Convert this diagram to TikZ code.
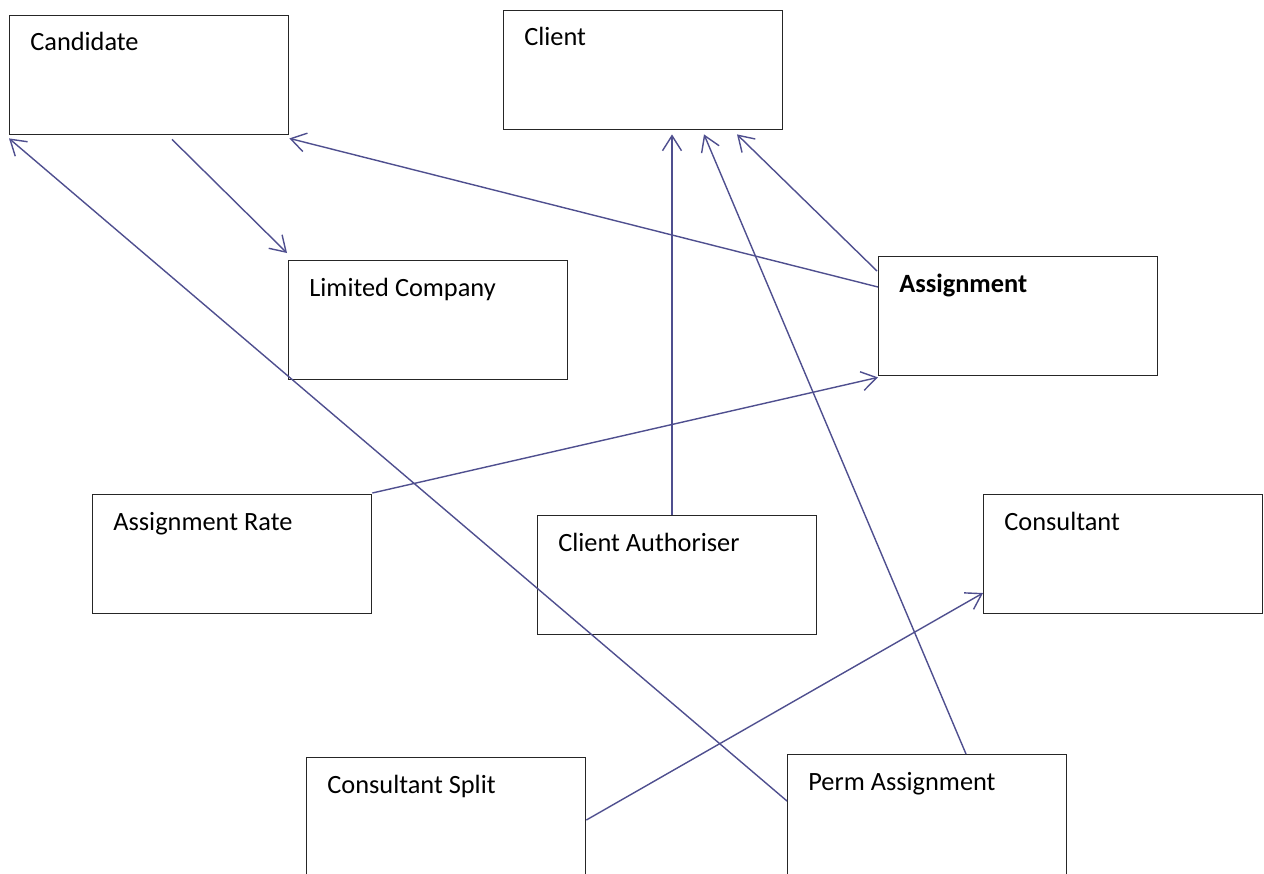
\documentclass[tikz,border=0pt]{standalone}
\usepackage{fontspec}
\setmainfont{Carlito}
\usetikzlibrary{arrows.meta, calc, positioning}
\definecolor{linkblue}{RGB}{79,79,143}
\tikzset{entity/.style={draw=black!85, line width=0.8pt, anchor=north west, minimum width=5.58cm, minimum height=2.38cm, inner sep=0pt}}
\tikzset{tag/.style={anchor=base west, inner sep=0pt, xshift=0.42cm, yshift=-0.72cm}}
\tikzset{link/.style={draw=linkblue, line width=0.8pt, -{Straight Barb[length=0.3cm, width=0.38cm, line width=0.8pt]}}}

\begin{document}
\begin{tikzpicture}[x=0.02cm, y=-0.02cm, font=\fontsize{15}{18}\selectfont]
	\useasboundingbox (0, 0) rectangle (1264, 873);

	\node (Cand) [entity, label={[tag]north west:Candidate}] at (9, 15) {};
	\node (Client) [entity, label={[tag]north west:Client}] at (503, 10) {};
	\node (LtdCo) [entity, label={[tag]north west:Limited Company}] at (288, 260) {};
	\node (Assign) [entity, label={[tag]north west:\textbf{Assignment}}] at (878, 256) {};
	\node (Rate) [entity, label={[tag]north west:Assignment Rate}] at (92, 494) {};
	\node (Auth) [entity, label={[tag]north west:Client Authoriser}] at (537, 515) {};
	\node (Cons) [entity, label={[tag]north west:Consultant}] at (983, 494) {};
	\node (Split) [entity, minimum height=2.6cm, label={[tag]north west:Consultant Split}] at (306, 757) {};
	\node (Perm) [entity, minimum height=2.6cm, label={[tag]north west:Perm Assignment}] at (787, 754) {};

	\draw [link] ($(Cand.south west)+(163, 4)$) -- ($(LtdCo.north west)+(-1, -7)$);
	\draw [link] ($(Assign.north west)+(0, 31)$) -- ($(Cand.south east)+(0, 3)$);
	\draw [link] ($(Assign.north west)+(-1, 15)$) -- ($(Client.south west)+(234, 4)$);
	\draw [link] ($(Rate.north east)+(0, -1)$) -- ($(Assign.south west)+(0, 1)$);
	\draw [link] ($(Auth.north west)+(135, 0)$) -- ($(Client.south west)+(169, 4)$);
	\draw [link] ($(Perm.north west)+(179, 0)$) -- ($(Client.south west)+(201, 4)$);
	\draw [link] ($(Perm.north west)+(0, 47)$) -- ($(Cand.south west)+(0, 3)$);
	\draw [link] ($(Split.north east)+(0, 63)$) -- ($(Cons.north west)+(0, 99)$);
\end{tikzpicture}
\end{document}
